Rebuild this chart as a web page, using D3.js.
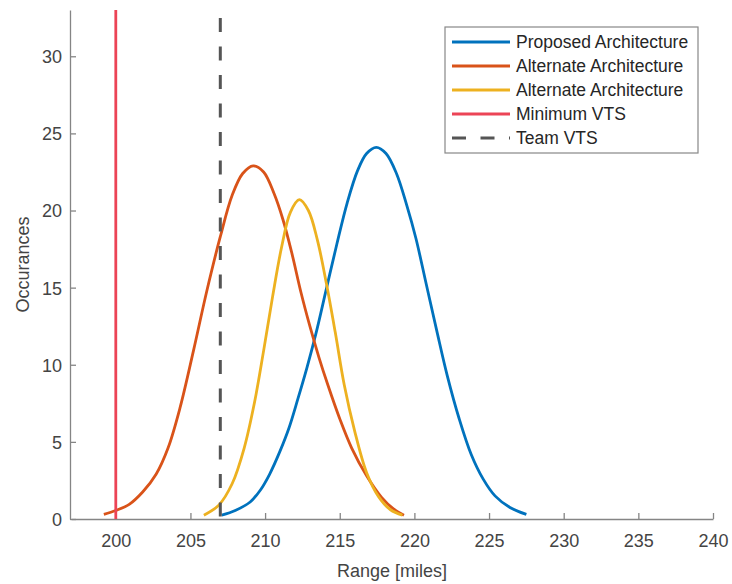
<!DOCTYPE html>
<html>
<head>
<meta charset="utf-8">
<script src="https://cdn.jsdelivr.net/npm/d3@7"></script>
<style>
  body { margin: 0; background: #fff; }
  text { font-family: Arial, "Liberation Sans", Helvetica, sans-serif; }
</style>
</head>
<body>
<svg id="chart" width="732" height="584"></svg>
<script>
// values
let proposedX = [207.1, 208.0, 209.0, 209.7, 210.3, 211.0, 211.6, 212.2, 212.8, 213.4, 214.1, 214.8, 215.5, 216.2, 216.8, 217.45, 218.1, 218.8, 219.5, 220.1, 220.8, 221.5, 222.2, 223.0, 223.8, 224.6, 225.4, 226.4, 227.5];
let proposedY = [0.25, 0.55, 1.1, 1.9, 2.9, 4.4, 5.9, 7.8, 9.8, 12.0, 14.9, 17.8, 20.5, 22.6, 23.7, 24.1, 23.7, 22.4, 20.3, 18.2, 15.2, 12.2, 9.3, 6.5, 4.2, 2.6, 1.5, 0.75, 0.3];

let alt1X = [199.2, 200.0, 200.9, 201.8, 202.7, 203.5, 204.3, 205.2, 206.1, 207.0, 207.8, 208.5, 209.2, 209.9, 210.6, 211.2, 211.8, 212.4, 213.0, 213.6, 214.2, 215.0, 215.8, 216.8, 217.8, 218.6, 219.3];
let alt1Y = [0.3, 0.55, 0.95, 1.75, 2.9, 4.6, 7.2, 10.9, 14.8, 18.3, 21.0, 22.4, 22.9, 22.5, 21.1, 19.4, 17.2, 14.7, 12.5, 10.5, 8.7, 6.5, 4.6, 2.8, 1.4, 0.65, 0.25];

let alt2X = [205.9, 206.9, 207.8, 208.6, 209.3, 209.9, 210.5, 211.1, 211.7, 212.3, 212.9, 213.5, 214.1, 214.7, 215.3, 216.0, 216.8, 217.6, 218.4, 219.2];
let alt2Y = [0.25, 0.9, 2.3, 4.6, 7.6, 10.9, 14.4, 17.6, 19.9, 20.7, 20.0, 18.1, 15.3, 12.1, 8.7, 5.7, 3.0, 1.45, 0.6, 0.25];

let minimumVTS = 200;
let teamVTS = 207;

let xTicks = [200, 205, 210, 215, 220, 225, 230, 235, 240];
let yTicks = [0, 5, 10, 15, 20, 25, 30];
let legendNames = ["Proposed Architecture", "Alternate Architecture", "Alternate Architecture", "Minimum VTS", "Team VTS"];

let colors = ["#0072bd", "#d95319", "#edb120", "#ec4456", "#555555"];

let svg = d3.select("#chart");

let x = d3.scaleLinear().domain([197, 240]).range([71, 713]);
let y = d3.scaleLinear().domain([0, 33]).range([519, 10]);

// axes (MATLAB style: ticks inside, no box)
let xAxis = svg.append("g")
    .attr("transform", `translate(0, ${y(0)})`)
    .call(d3.axisBottom(x).tickValues(xTicks).tickSizeInner(-6).tickSizeOuter(0).tickPadding(15));
let yAxis = svg.append("g")
    .attr("transform", `translate(${x.range()[0] - 1}, 0)`)
    .call(d3.axisLeft(y).tickValues(yTicks).tickSizeInner(-6).tickSizeOuter(0).tickPadding(8));

[xAxis, yAxis].forEach(a => {
    a.select(".domain").attr("stroke", "#858585").attr("stroke-width", 1.3);
    a.selectAll(".tick line").attr("stroke", "#858585").attr("stroke-width", 1.3);
    a.selectAll(".tick text").attr("fill", "#444").style("font-size", "18px");
});
yAxis.selectAll(".tick text").attr("dy", "0.36em");

svg.append("text")
    .attr("x", (x.range()[0] + x.range()[1]) / 2)
    .attr("y", 577)
    .attr("text-anchor", "middle")
    .attr("fill", "#444")
    .style("font-size", "18px")
    .text("Range [miles]");

svg.append("text")
    .attr("transform", `translate(29, ${(y.range()[0] + y.range()[1]) / 2}) rotate(-90)`)
    .attr("text-anchor", "middle")
    .attr("fill", "#444")
    .style("font-size", "18px")
    .text("Occurances");

let line = d3.line()
    .x(d => x(d[0]))
    .y(d => y(d[1]))
    .curve(d3.curveCatmullRom);

let series = [
    d3.zip(proposedX, proposedY),
    d3.zip(alt1X, alt1Y),
    d3.zip(alt2X, alt2Y)
];

let plot = svg.append("g");

series.forEach((s, i) => {
    plot.append("path")
        .datum(s)
        .attr("d", line)
        .attr("fill", "none")
        .attr("stroke", colors[i])
        .attr("stroke-width", 2.8)
        .attr("stroke-linejoin", "round");
});

plot.append("line")
    .attr("x1", x(minimumVTS)).attr("x2", x(minimumVTS))
    .attr("y1", y(0)).attr("y2", y(33))
    .attr("stroke", colors[3])
    .attr("stroke-width", 2.8);

plot.append("line")
    .attr("x1", x(teamVTS)).attr("x2", x(teamVTS))
    .attr("y1", y(33) + 8).attr("y2", y(0))
    .attr("stroke", colors[4])
    .attr("stroke-width", 3)
    .attr("stroke-dasharray", "14,14.5");

// legend
let legend = svg.append("g").attr("transform", "translate(445, 27)");
legend.append("rect")
    .attr("width", 253).attr("height", 126)
    .attr("fill", "#fff")
    .attr("stroke", "#888")
    .attr("stroke-width", 1.2);

legendNames.forEach((name, i) => {
    let row = legend.append("g").attr("transform", `translate(0, ${15 + i * 24})`);
    row.append("line")
        .attr("x1", 7).attr("x2", 65)
        .attr("stroke", colors[i])
        .attr("stroke-width", i == 4 ? 3 : 2.8)
        .attr("stroke-dasharray", i == 4 ? "14,14.5" : null);
    row.append("text")
        .attr("x", 71)
        .attr("dy", "0.35em")
        .attr("fill", "#262626")
        .style("font-size", "17.5px")
        .text(name);
});
</script>
</body>
</html>
